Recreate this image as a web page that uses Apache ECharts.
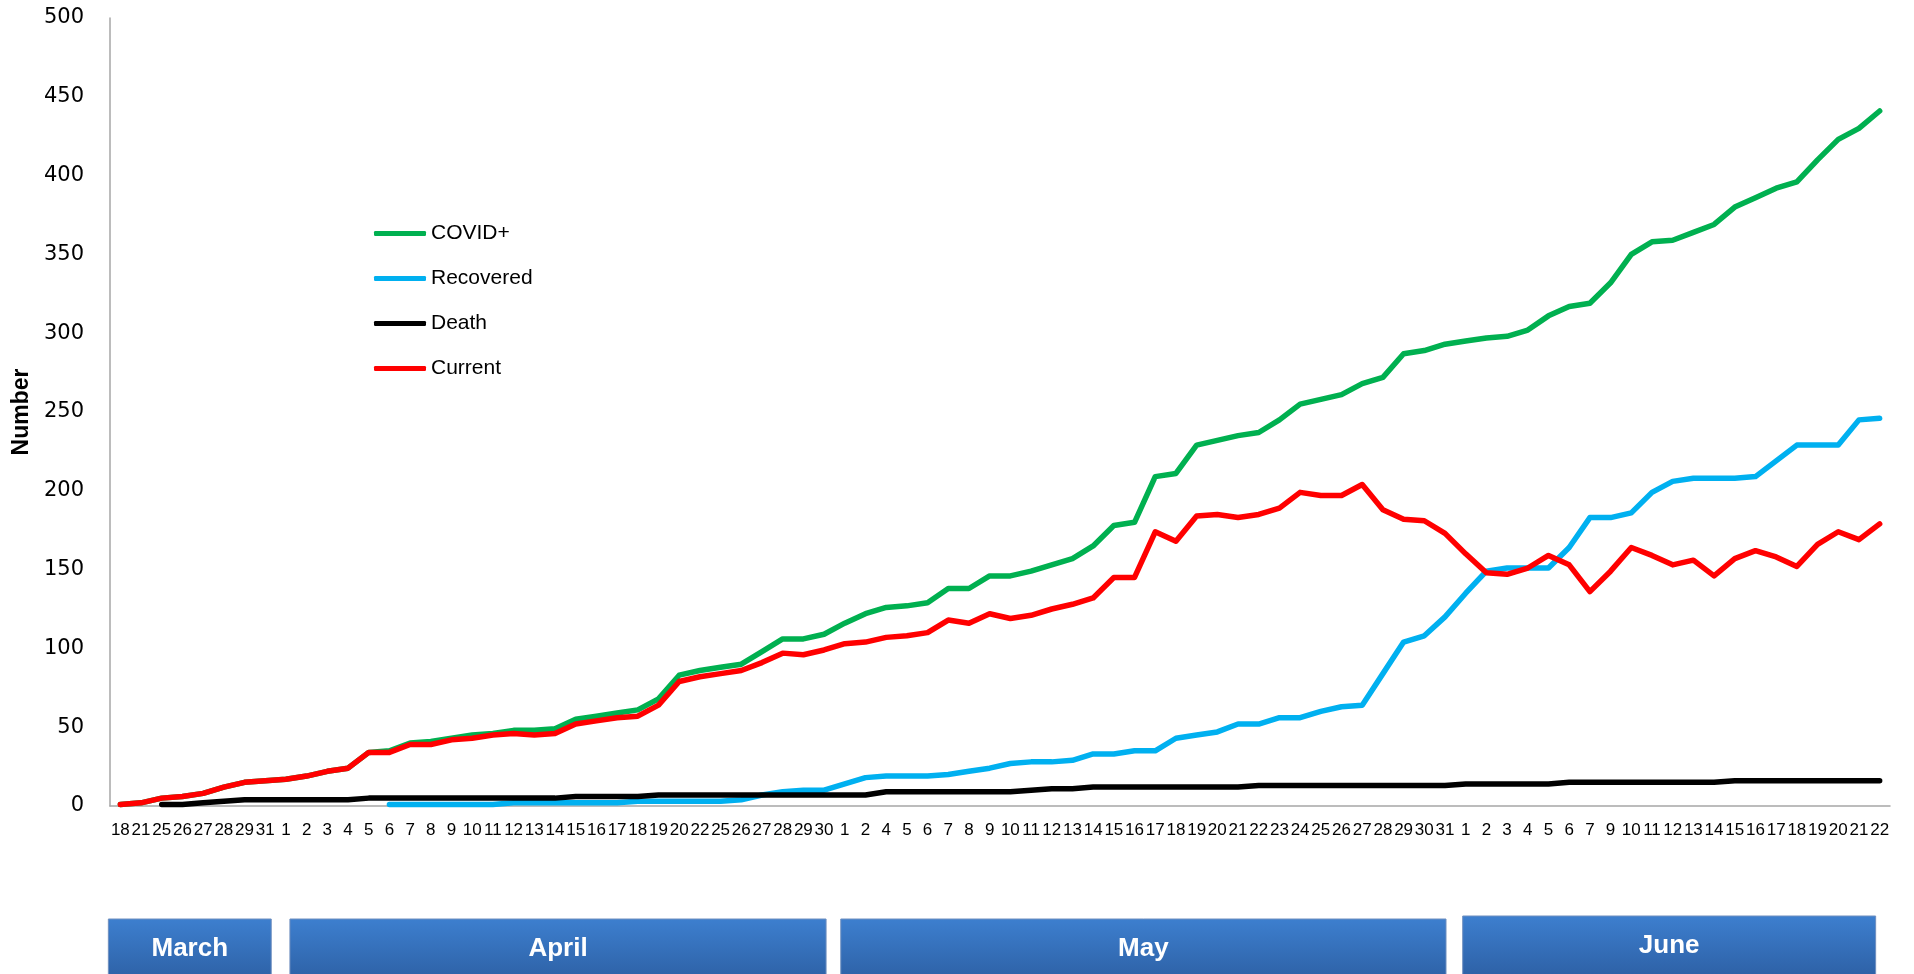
<!DOCTYPE html>
<html><head><meta charset="utf-8">
<script src="https://cdn.jsdelivr.net/npm/echarts@6/dist/echarts.min.js"></script>
<style>html,body{margin:0;padding:0;background:#fff}#c{width:1914px;height:974px}</style>
</head><body><div id="c"></div>
<script>
// ---- categories (days, grouped by month) ----
const marchDays = ['18','21','25','26','27','28','29','31'];
const aprilDays = ['1','2','3','4','5','6','7','8','9','10','11','12','13','14','15','16','17','18','19','20','22','25','26','27','28','29','30'];
const mayDays = ['1','2','4','5','6','7','8','9','10','11','12','13','14','15','16','17','18','19','20','21','22','23','24','25','26','27','28','29','30','31'];
const juneDays = ['1','2','3','4','5','6','7','9','10','11','12','13','14','15','16','17','18','19','20','21','22'];
const monthNames = ['March','April','May','June'];

// ---- series values ----
const covidPos = [1,2,5,6,8,12,15,16,
  17,19,22,24,34,35,40,41,43,45,46,48,48,49,55,57,59,61,68,83,86,88,90,98,106,106,109,
  116,122,126,127,129,138,138,146,146,149,153,157,165,178,180,209,211,229,232,235,237,245,255,258,261,268,272,287,289,293,
  295,297,298,302,311,317,319,332,350,358,359,364,369,380,386,392,396,410,423,430,441];
const recovered = [null,null,null,null,null,null,null,null,
  null,null,null,null,null,1,1,1,1,1,1,2,2,2,2,2,2,3,3,3,3,3,4,7,9,10,10,
  14,18,19,19,19,20,22,24,27,28,28,29,33,33,35,35,43,45,47,52,52,56,56,60,63,64,84,104,108,120,
  135,149,151,151,151,164,183,183,186,199,206,208,208,208,209,219,229,229,229,245,246];
const death = [null,null,1,1,2,3,4,4,
  4,4,4,4,5,5,5,5,5,5,5,5,5,5,6,6,6,6,7,7,7,7,7,7,7,7,7,
  7,7,9,9,9,9,9,9,9,10,11,11,12,12,12,12,12,12,12,12,13,13,13,13,13,13,13,13,13,13,
  14,14,14,14,14,15,15,15,15,15,15,15,15,16,16,16,16,16,16,16,16];
const current = [1,2,5,6,8,12,15,16,
  17,19,22,24,34,34,39,39,42,43,45,46,45,46,52,54,56,57,64,79,82,84,86,91,97,96,99,
  103,104,107,108,110,118,116,122,119,121,125,128,132,145,145,174,168,184,185,183,185,189,199,197,197,204,188,182,181,173,
  160,148,147,151,159,153,136,149,164,159,153,156,146,157,162,158,152,166,174,169,179];
const yTicks = {min: 0, max: 500, step: 50};

const monthGroups = [marchDays, aprilDays, mayDays, juneDays];
const categories = [].concat(...monthGroups);

const chart = echarts.init(document.getElementById('c'), null, {renderer: 'canvas'});

function lineSeries(name, data, color) {
  return {
    name, type: 'line', data, showSymbol: false, symbol: 'none',
    lineStyle: {color, width: 5.5, cap: 'round', join: 'round'},
    itemStyle: {color},
    connectNulls: false, animation: false
  };
}

chart.setOption({
  animation: false,
  backgroundColor: '#ffffff',
  grid: {left: 110, right: 24, top: 18, bottom: 168, containLabel: false, outerBoundsMode: 'none'},
  legend: {
    orient: 'vertical', left: 369, top: 218,
    itemWidth: 52, itemHeight: 5, itemGap: 24, icon: 'roundRect',
    textStyle: {fontFamily: 'Liberation Sans', fontSize: 21, color: '#000', lineHeight: 21},
    data: ['COVID+','Recovered','Death','Current']
  },
  xAxis: {
    type: 'category', data: categories, boundaryGap: true,
    axisLine: {lineStyle: {color: '#a6a6a6', width: 1.5}},
    axisTick: {show: false},
    axisLabel: {interval: 0, fontFamily: 'Liberation Sans', fontSize: 17, color: '#000', margin: 16}
  },
  yAxis: {
    type: 'value', min: yTicks.min, max: yTicks.max, interval: yTicks.step,
    name: 'Number', nameLocation: 'middle', nameRotate: 90, nameGap: 76,
    nameTextStyle: {fontFamily: 'Liberation Sans', fontWeight: 'bold', fontSize: 23, color: '#000'},
    axisLine: {show: true, lineStyle: {color: '#a6a6a6', width: 1.5}},
    axisTick: {show: false},
    splitLine: {show: false},
    axisLabel: {fontFamily: 'DejaVu Sans', fontSize: 21, color: '#000', margin: 26}
  },
  series: [
    lineSeries('COVID+', covidPos, '#00b050'),
    lineSeries('Recovered', recovered, '#00b0f0'),
    lineSeries('Death', death, '#000000'),
    lineSeries('Current', current, '#ff0000')
  ]
});

// month boxes below the axis, spanning each month's categories
const boxLeftPad = [-12, 4, -4, -3];
const boxRightPad = [6, 2, 1, -4];
const graphics = [];
let start = 0;
monthGroups.forEach((g, i) => {
  const first = start, last = start + g.length - 1;
  start += g.length;
  const x0 = chart.convertToPixel({xAxisIndex: 0}, first) + boxLeftPad[i];
  const x1 = chart.convertToPixel({xAxisIndex: 0}, last) + boxRightPad[i];
  const top = i === 3 ? 916 : 919;
  graphics.push({
    type: 'rect', shape: {x: x0, y: top, width: x1 - x0, height: 70},
    style: {
      fill: new echarts.graphic.LinearGradient(0, 0, 0, 1, [
        {offset: 0, color: '#3d7fcf'}, {offset: 1, color: '#2b5c9f'}
      ]),
      stroke: '#6f8fbf', lineWidth: 1
    },
    z: 10
  });
  graphics.push({
    type: 'text', x: (x0 + x1) / 2, y: top + 30,
    style: {text: monthNames[i], fill: '#ffffff', font: 'bold 26px "Liberation Sans"', align: 'center', verticalAlign: 'middle'},
    z: 11
  });
});
chart.setOption({graphic: graphics});
</script>
</body></html>
